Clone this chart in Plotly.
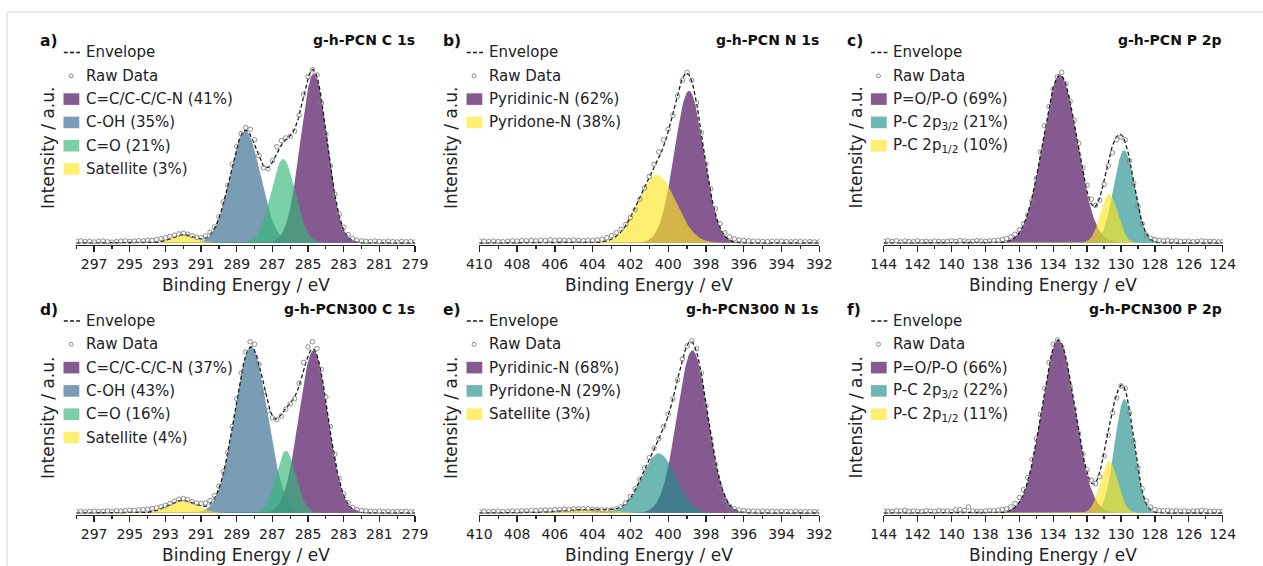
import numpy as np
import plotly.graph_objects as go

# ------------------------------------------------------------------ data
X_TITLE = "Binding Energy / eV"
Y_TITLE = "Intensity / a.u."
ENVELOPE_LABEL = "Envelope"
RAW_LABEL = "Raw Data"
PANEL_LETTERS = ["a)", "b)", "c)", "d)", "e)", "f)"]
PANEL_TITLES = ["g-h-PCN C 1s", "g-h-PCN N 1s", "g-h-PCN P 2p",
                "g-h-PCN300 C 1s", "g-h-PCN300 N 1s", "g-h-PCN300 P 2p"]

C1S_RANGE = [298, 279]
N1S_RANGE = [410, 392]
P2P_RANGE = [144, 124]
C1S_TICKS = [297, 295, 293, 291, 289, 287, 285, 283, 281, 279]
C1S_MINOR = [298, 296, 294, 292, 290, 288, 286, 284, 282, 280]
N1S_TICKS = [410, 408, 406, 404, 402, 400, 398, 396, 394, 392]
N1S_MINOR = [409, 407, 405, 403, 401, 399, 397, 395, 393]
P2P_TICKS = [144, 142, 140, 138, 136, 134, 132, 130, 128, 126, 124]
P2P_MINOR = [143, 141, 139, 137, 135, 133, 131, 129, 127, 125]
RAW_STEP = 0.25  # eV between raw data points

# raw intensities (normalised), starting at the high-energy end of each range
A_RAW = [0.010, 0.012, 0.008, 0.010, 0.006, 0.009, 0.011, 0.007, 0.005, 0.008,
         0.010, 0.012, 0.009, 0.011, 0.013, 0.012, 0.016, 0.015, 0.020, 0.025,
         0.030, 0.038, 0.045, 0.052, 0.055, 0.050, 0.042, 0.033, 0.030, 0.040,
         0.062, 0.092, 0.150, 0.235, 0.330, 0.450, 0.550, 0.625, 0.660, 0.650,
         0.590, 0.500, 0.430, 0.425, 0.470, 0.550, 0.585, 0.600, 0.610, 0.640,
         0.730, 0.850, 0.950, 0.990, 0.960, 0.800, 0.620, 0.440, 0.280, 0.165,
         0.090, 0.048, 0.025, 0.016, 0.012, 0.010, 0.008, 0.011, 0.009, 0.007,
         0.010, 0.008, 0.006, 0.009, 0.007, 0.008, 0.006]
B_RAW = [0.012, 0.010, 0.008, 0.011, 0.009, 0.007, 0.010, 0.012, 0.011, 0.014,
         0.012, 0.015, 0.013, 0.016, 0.014, 0.018, 0.015, 0.017, 0.016, 0.014,
         0.017, 0.015, 0.013, 0.016, 0.014, 0.018, 0.022, 0.030, 0.042, 0.058,
         0.078, 0.105, 0.145, 0.190, 0.250, 0.315, 0.380, 0.450, 0.520, 0.590,
         0.650, 0.730, 0.840, 0.930, 0.975, 0.930, 0.800, 0.630, 0.450, 0.310,
         0.195, 0.110, 0.058, 0.035, 0.024, 0.018, 0.014, 0.012, 0.010, 0.011,
         0.009, 0.008, 0.010, 0.009, 0.011, 0.008, 0.007, 0.009, 0.008, 0.007,
         0.008, 0.006, 0.007]
C_RAW = [0.010, 0.013, 0.008, 0.012, 0.006, 0.011, 0.009, 0.007, 0.012, 0.008,
         0.010, 0.006, 0.011, 0.009, 0.007, 0.010, 0.012, 0.009, 0.014, 0.011,
         0.008, 0.010, 0.013, 0.011, 0.009, 0.012, 0.014, 0.016, 0.020, 0.025,
         0.035, 0.050, 0.075, 0.110, 0.160, 0.240, 0.370, 0.520, 0.670, 0.780,
         0.880, 0.950, 0.975, 0.910, 0.810, 0.700, 0.570, 0.430, 0.330, 0.250,
         0.215, 0.245, 0.335, 0.440, 0.515, 0.590, 0.605, 0.590, 0.470, 0.340,
         0.210, 0.110, 0.045, 0.028, 0.020, 0.016, 0.012, 0.015, 0.010, 0.012,
         0.009, 0.008, 0.011, 0.007, 0.009, 0.012, 0.010, 0.008, 0.009, 0.007,
         0.008]
D_RAW = [0.008, 0.010, 0.007, 0.009, 0.011, 0.008, 0.010, 0.012, 0.009, 0.013,
         0.011, 0.014, 0.016, 0.015, 0.018, 0.020, 0.022, 0.026, 0.030, 0.036,
         0.044, 0.055, 0.068, 0.080, 0.084, 0.078, 0.066, 0.058, 0.055, 0.058,
         0.072, 0.100, 0.155, 0.240, 0.350, 0.500, 0.660, 0.810, 0.930, 0.990,
         0.975, 0.860, 0.700, 0.590, 0.550, 0.540, 0.560, 0.600, 0.630, 0.660,
         0.750, 0.870, 0.960, 0.990, 0.950, 0.830, 0.670, 0.500, 0.340, 0.200,
         0.110, 0.060, 0.032, 0.020, 0.014, 0.012, 0.010, 0.009, 0.011, 0.008,
         0.010, 0.007, 0.009, 0.008, 0.010, 0.007, 0.008]
E_RAW = [0.008, 0.010, 0.007, 0.009, 0.011, 0.008, 0.010, 0.012, 0.011, 0.013,
         0.012, 0.015, 0.014, 0.016, 0.018, 0.017, 0.020, 0.019, 0.022, 0.021,
         0.023, 0.024, 0.025, 0.024, 0.022, 0.020, 0.018, 0.017, 0.018, 0.024,
         0.036, 0.058, 0.095, 0.140, 0.195, 0.260, 0.320, 0.375, 0.430, 0.500,
         0.570, 0.660, 0.770, 0.890, 0.965, 0.995, 0.950, 0.810, 0.620, 0.430,
         0.280, 0.150, 0.078, 0.040, 0.024, 0.017, 0.014, 0.012, 0.011, 0.010,
         0.012, 0.009, 0.010, 0.008, 0.011, 0.009, 0.008, 0.010, 0.007, 0.009,
         0.008, 0.007, 0.008]
F_RAW = [0.012, 0.010, 0.008, 0.013, 0.011, 0.016, 0.009, 0.012, 0.010, 0.008,
         0.013, 0.011, 0.009, 0.014, 0.010, 0.012, 0.008, 0.018, 0.020, 0.015,
         0.035, 0.012, 0.010, 0.009, 0.011, 0.014, 0.013, 0.017, 0.020, 0.024,
         0.035, 0.055, 0.090, 0.135, 0.205, 0.310, 0.430, 0.570, 0.720, 0.870,
         0.975, 1.000, 0.960, 0.860, 0.730, 0.600, 0.460, 0.340, 0.250, 0.190,
         0.170, 0.210, 0.330, 0.450, 0.580, 0.665, 0.735, 0.720, 0.580, 0.410,
         0.260, 0.140, 0.070, 0.035, 0.020, 0.015, 0.013, 0.016, 0.011, 0.014,
         0.010, 0.012, 0.009, 0.011, 0.013, 0.015, 0.012, 0.010, 0.011, 0.009,
         0.010]

# fitted components: peak centre (eV), height (normalised), FWHM (eV)
A_LABELS = ["C=C/C-C/C-N (41%)", "C-OH (35%)", "C=O (21%)", "Satellite (3%)"]
A_CENTER = [284.68, 288.52, 286.40, 292.00]
A_HEIGHT = [0.97, 0.64, 0.48, 0.048]
A_FWHM = [1.75, 2.00, 1.60, 1.50]

B_LABELS = ["Pyridinic-N (62%)", "Pyridone-N (38%)"]
B_CENTER = [398.90, 400.60]
B_HEIGHT = [0.87, 0.39]
B_FWHM = [1.80, 2.35]

C_LABELS = ["P=O/P-O (69%)", "P-C 2p<sub>3/2</sub> (21%)", "P-C 2p<sub>1/2</sub> (10%)"]
C_CENTER = [133.60, 129.82, 130.70]
C_HEIGHT = [0.96, 0.53, 0.28]
C_FWHM = [2.40, 1.45, 1.20]

D_LABELS = ["C=C/C-C/C-N (37%)", "C-OH (43%)", "C=O (16%)", "Satellite (4%)"]
D_CENTER = [284.70, 288.20, 286.24, 292.05]
D_HEIGHT = [0.94, 0.96, 0.36, 0.072]
D_FWHM = [1.90, 2.15, 1.30, 1.90]

E_LABELS = ["Pyridinic-N (68%)", "Pyridone-N (29%)", "Satellite (3%)"]
E_CENTER = [398.72, 400.50, 404.40]
E_HEIGHT = [0.94, 0.345, 0.020]
E_FWHM = [1.90, 2.10, 3.00]

F_LABELS = ["P=O/P-O (66%)", "P-C 2p<sub>3/2</sub> (22%)", "P-C 2p<sub>1/2</sub> (11%)"]
F_CENTER = [133.70, 129.80, 130.70]
F_HEIGHT = [1.00, 0.66, 0.30]
F_FWHM = [2.30, 1.35, 1.20]

# ------------------------------------------------------------------ style
FONT = "DejaVu Sans"
TEXT = "#222222"
PURPLE = "rgba(68,1,84,0.65)"
BLUE = "rgba(49,104,142,0.65)"
GREEN = "rgba(53,183,121,0.65)"
YELLOW = "rgba(253,231,37,0.65)"
TEAL = "rgba(33,145,140,0.65)"

PANELS = [
    dict(rng=C1S_RANGE, ticks=C1S_TICKS, minor=C1S_MINOR, raw=A_RAW,
         labels=A_LABELS, center=A_CENTER, height=A_HEIGHT, fwhm=A_FWHM,
         colors=[PURPLE, BLUE, GREEN, YELLOW]),
    dict(rng=N1S_RANGE, ticks=N1S_TICKS, minor=N1S_MINOR, raw=B_RAW,
         labels=B_LABELS, center=B_CENTER, height=B_HEIGHT, fwhm=B_FWHM,
         colors=[PURPLE, YELLOW]),
    dict(rng=P2P_RANGE, ticks=P2P_TICKS, minor=P2P_MINOR, raw=C_RAW,
         labels=C_LABELS, center=C_CENTER, height=C_HEIGHT, fwhm=C_FWHM,
         colors=[PURPLE, TEAL, YELLOW]),
    dict(rng=C1S_RANGE, ticks=C1S_TICKS, minor=C1S_MINOR, raw=D_RAW,
         labels=D_LABELS, center=D_CENTER, height=D_HEIGHT, fwhm=D_FWHM,
         colors=[PURPLE, BLUE, GREEN, YELLOW]),
    dict(rng=N1S_RANGE, ticks=N1S_TICKS, minor=N1S_MINOR, raw=E_RAW,
         labels=E_LABELS, center=E_CENTER, height=E_HEIGHT, fwhm=E_FWHM,
         colors=[PURPLE, TEAL, YELLOW]),
    dict(rng=P2P_RANGE, ticks=P2P_TICKS, minor=P2P_MINOR, raw=F_RAW,
         labels=F_LABELS, center=F_CENTER, height=F_HEIGHT, fwhm=F_FWHM,
         colors=[PURPLE, TEAL, YELLOW]),
]

# ------------------------------------------------------------------ layout geometry (px)
W, H = 1263, 566
COL_LEFT = [76.3, 479.3, 883.7]
COL_RIGHT = [415.0, 819.3, 1222.7]
ROW_AXIS_Y = [244.5, 514.5]
ROW_TOP_Y = [34.5, 304.5]
ROW_ZERO_Y = [243.0, 513.0]
ROW_PX_PER_UNIT = [175.0, 173.0]
ROW_SHIFT = [0.0, 268.5]


def px(x):
    return x / W


def py(y):
    return 1 - y / H


def gauss(x, c, h, w):
    return h * np.exp(-4 * np.log(2) * ((x - c) / w) ** 2)


fig = go.Figure()
shapes = []
annotations = []
layout = {}

for i, p in enumerate(PANELS):
    row, col = divmod(i, 3)
    n = "" if i == 0 else str(i + 1)
    xa, ya = "x" + n, "y" + n
    L, R = COL_LEFT[col], COL_RIGHT[col]
    hi, lo = p["rng"]

    e_dense = np.linspace(hi, lo, 1500)
    comps = [gauss(e_dense, c, h, w) for c, h, w in zip(p["center"], p["height"], p["fwhm"])]
    env = np.sum(comps, axis=0)
    for comp, colr in zip(comps, p["colors"]):
        fig.add_trace(go.Scatter(x=e_dense, y=comp, mode="lines", fill="tozeroy",
                                 fillcolor=colr, line=dict(width=0, color=colr),
                                 xaxis=xa, yaxis=ya, hoverinfo="skip", showlegend=False))
    fig.add_trace(go.Scatter(x=e_dense, y=env, mode="lines",
                             line=dict(color="#1a1a1a", width=1.3, dash="4px,2.5px"),
                             xaxis=xa, yaxis=ya, hoverinfo="skip", showlegend=False))
    e_raw = hi - RAW_STEP * np.arange(len(p["raw"]))
    fig.add_trace(go.Scatter(x=e_raw, y=p["raw"], mode="markers",
                             marker=dict(symbol="circle-open", size=4.5, color="#808080",
                                         line=dict(width=0.9)),
                             xaxis=xa, yaxis=ya, hoverinfo="skip", showlegend=False))

    ppu = ROW_PX_PER_UNIT[row]
    ymin = -(ROW_AXIS_Y[row] - ROW_ZERO_Y[row]) / ppu
    ymax = (ROW_ZERO_Y[row] - ROW_TOP_Y[row]) / ppu
    layout["xaxis" + n] = dict(
        domain=[px(L), px(R)], range=[hi, lo], anchor=ya,
        tickmode="array", tickvals=p["ticks"], ticktext=[str(t) for t in p["ticks"]],
        ticks="outside", ticklen=6, tickwidth=1.3, tickcolor=TEXT,
        showline=True, linecolor=TEXT, linewidth=1.6,
        showgrid=False, zeroline=False, fixedrange=True, automargin=False,
        tickfont=dict(family=FONT, size=14, color=TEXT),
        minor=dict(tickvals=p["minor"], ticks="outside", ticklen=3, tickwidth=1.2,
                   tickcolor=TEXT, showgrid=False))
    layout["yaxis" + n] = dict(domain=[py(ROW_AXIS_Y[row]), py(ROW_TOP_Y[row])],
                               range=[ymin, ymax], anchor=xa, visible=False,
                               fixedrange=True, automargin=False)

    s = ROW_SHIFT[row]
    # panel letter and title
    annotations.append(dict(text="<b>" + PANEL_LETTERS[i] + "</b>", x=px(L - 38.3), y=py(41 + s),
                            xanchor="left", yanchor="middle",
                            font=dict(family=FONT, size=15.5, color="#111")))
    annotations.append(dict(text="<b>" + PANEL_TITLES[i] + "</b>", x=px(R + 1.5), y=py(40.5 + s),
                            xanchor="right", yanchor="middle",
                            font=dict(family=FONT, size=14, color="#111")))
    # axis titles
    annotations.append(dict(text=X_TITLE, x=px((L + R) / 2), y=py(ROW_AXIS_Y[row] + 40.5),
                            xanchor="center", yanchor="middle",
                            font=dict(family=FONT, size=17, color=TEXT)))
    annotations.append(dict(text=Y_TITLE, x=px(L - 28.7), y=py(147.5 + ROW_SHIFT[row] + 1.5 * row),
                            xanchor="center", yanchor="middle", textangle=-90,
                            font=dict(family=FONT, size=17, color=TEXT)))

    # legend
    rows_y = [52.5 + s + 23.3 * k for k in range(2 + len(p["labels"]))]
    shapes.append(dict(type="line", xref="paper", yref="paper",
                       x0=px(L - 12.5), x1=px(L + 3.7), y0=py(rows_y[0]), y1=py(rows_y[0]),
                       line=dict(color="#1a1a1a", width=1.3, dash="4px,2.2px")))
    shapes.append(dict(type="circle", xref="paper", yref="paper",
                       x0=px(L - 7.2), x1=px(L - 3.2), y0=py(rows_y[1] + 2), y1=py(rows_y[1] - 2),
                       line=dict(color="#808080", width=0.9), fillcolor="rgba(0,0,0,0)"))
    legend_texts = [ENVELOPE_LABEL, RAW_LABEL] + p["labels"]
    for k, lab in enumerate(legend_texts):
        annotations.append(dict(text=lab, x=px(L + 7.7), y=py(rows_y[k]),
                                xanchor="left", yanchor="middle",
                                font=dict(family=FONT, size=15, color=TEXT)))
    for k, colr in enumerate(p["colors"]):
        yc = rows_y[k + 2]
        shapes.append(dict(type="rect", xref="paper", yref="paper",
                           x0=px(L - 12.8), x1=px(L + 3.0), y0=py(yc + 5.8), y1=py(yc - 5.8),
                           fillcolor=colr, line=dict(width=0)))

for a in annotations:
    a.update(xref="paper", yref="paper", showarrow=False)

# light frame around the figure
shapes.append(dict(type="line", xref="paper", yref="paper", x0=px(7), x1=1.0,
                   y0=py(12), y1=py(12), line=dict(color="#d8d8d8", width=1)))
shapes.append(dict(type="line", xref="paper", yref="paper", x0=px(7), x1=px(7),
                   y0=py(12), y1=0.0, line=dict(color="#d8d8d8", width=1)))

fig.update_layout(width=W, height=H, margin=dict(l=0, r=0, t=0, b=0, pad=0),
                  autosize=False,
                  paper_bgcolor="white", plot_bgcolor="white", showlegend=False,
                  shapes=shapes, annotations=annotations, **layout)
fig.write_html("out.html",
               config={"displayModeBar": False, "staticPlot": True},
               post_script="document.body.style.margin='0';"
                           "document.body.style.padding='0';"
                           "document.documentElement.style.overflow='hidden';")
